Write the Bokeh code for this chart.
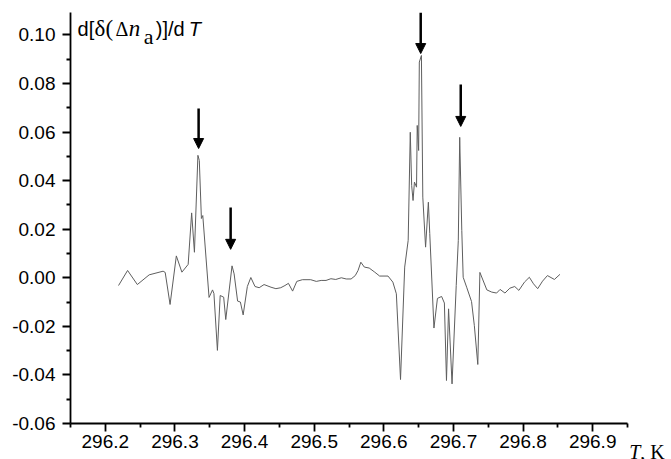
from bokeh.plotting import figure
from bokeh.models import (Range1d, FixedTicker, PrintfTickFormatter, Label,
                          Arrow, NormalHead)
from bokeh.embed import file_html
from bokeh.resources import INLINE

# Temperature (K)
T = [296.219, 296.232, 296.246, 296.263, 296.283, 296.286, 296.293, 296.302, 296.310, 296.319,
     296.324, 296.328, 296.333, 296.335, 296.338, 296.340, 296.349, 296.354, 296.356, 296.361,
     296.365, 296.370, 296.373, 296.382, 296.385, 296.390, 296.394, 296.398, 296.404, 296.409,
     296.415, 296.421, 296.428, 296.438, 296.445, 296.452, 296.458, 296.463, 296.469, 296.475,
     296.483, 296.495, 296.503, 296.510, 296.517, 296.524, 296.531, 296.539, 296.546, 296.553,
     296.559, 296.563, 296.567, 296.572, 296.579, 296.587, 296.594, 296.606, 296.613, 296.618,
     296.624, 296.630, 296.635, 296.638, 296.640, 296.642, 296.644, 296.647, 296.648, 296.650,
     296.651, 296.654, 296.656, 296.660, 296.664, 296.666, 296.672, 296.677, 296.683, 296.687,
     296.690, 296.693, 296.698, 296.704, 296.707, 296.709, 296.712, 296.714, 296.719, 296.726,
     296.730, 296.735, 296.738, 296.748, 296.755, 296.762, 296.767, 296.774, 296.781, 296.788,
     296.794, 296.802, 296.809, 296.815, 296.821, 296.828, 296.835, 296.845, 296.853]

# d[delta(Delta n_a)]/dT
D = [-0.0032, 0.0030, -0.0028, 0.0012, 0.0027, 0.0022, -0.0110, 0.0090, 0.0023, 0.0055,
     0.0267, 0.0105, 0.0504, 0.0483, 0.0244, 0.0256, -0.0081, -0.0050, -0.0065, -0.0299,
     -0.0073, -0.0080, -0.0172, 0.0049, 0.0016, -0.0096, -0.0100, -0.0153, -0.0036, 0.0001,
     -0.0036, -0.0041, -0.0028, -0.0039, -0.0045, -0.0041, -0.0032, -0.0023, -0.0055, -0.0015,
     -0.0008, -0.0008, -0.0015, -0.0011, -0.0011, -0.0004, -0.0007, 0.0000, -0.0005, -0.0005,
     0.0009, 0.0030, 0.0064, 0.0044, 0.0040, 0.0023, 0.0007, 0.0007, -0.0018, -0.0066,
     -0.0419, 0.0044, 0.0154, 0.0599, 0.0380, 0.0318, 0.0394, 0.0373, 0.0627, 0.0524,
     0.0888, 0.0915, 0.0332, 0.0126, 0.0311, 0.0182, -0.0207, -0.0085, -0.0077, -0.0104,
     -0.0423, -0.0128, -0.0437, -0.0032, 0.0154, 0.0578, 0.0195, 0.0002, -0.0039, -0.0098,
     -0.0196, -0.0357, 0.0022, -0.0050, -0.0059, -0.0063, -0.0048, -0.0063, -0.0043, -0.0036,
     -0.0052, -0.0018, 0.0002, -0.0025, -0.0045, -0.0014, 0.0009, -0.0007, 0.0014]

# Arrows marking peaks: x, start y, end y
arrow_x = [296.334, 296.380, 296.653, 296.7105]
arrow_y0 = [0.0697, 0.0289, 0.1092, 0.0796]
arrow_y1 = [0.0532, 0.0117, 0.0923, 0.0623]

x_ticks = [296.2, 296.3, 296.4, 296.5, 296.6, 296.7, 296.8, 296.9]
x_minor = [296.15, 296.25, 296.35, 296.45, 296.55, 296.65, 296.75, 296.85, 296.95]
y_ticks = [-0.06, -0.04, -0.02, 0.0, 0.02, 0.04, 0.06, 0.08, 0.10]
y_minor = [-0.05, -0.03, -0.01, 0.01, 0.03, 0.05, 0.07, 0.09]

p = figure(width=671, height=459, output_backend="svg", toolbar_location=None,
           x_range=Range1d(296.15, 296.95), y_range=Range1d(-0.06, 0.1092),
           min_border_left=70, min_border_right=44, min_border_top=12, min_border_bottom=36)
p.outline_line_color = None
p.xgrid.visible = False
p.ygrid.visible = False
p.background_fill_color = "white"
p.border_fill_color = "white"

p.line(T, D, line_color="#5e5e5e", line_width=1)

for xa, y0, y1 in zip(arrow_x, arrow_y0, arrow_y1):
    p.add_layout(Arrow(x_start=xa, y_start=y0, x_end=xa, y_end=y1,
                       line_color="black", line_width=2.5,
                       end=NormalHead(size=10, fill_color="black", line_color="black", line_width=1)))

for ax, ticks, minor, fmt in ((p.xaxis[0], x_ticks, x_minor, "%.1f"),
                              (p.yaxis[0], y_ticks, y_minor, "%.2f")):
    ax.ticker = FixedTicker(ticks=ticks, minor_ticks=minor)
    ax.formatter = PrintfTickFormatter(format=fmt)
    ax.axis_line_width = 1.8
    ax.axis_line_color = "black"
    ax.major_tick_line_width = 1.8
    ax.minor_tick_line_width = 1.8
    ax.major_tick_in = 0
    ax.minor_tick_in = 0
    ax.major_tick_out = 8
    ax.minor_tick_out = 4
    ax.major_label_text_font = "Liberation Sans"
    ax.major_label_text_font_size = "19px"
    ax.major_label_text_color = "black"

p.xaxis[0].major_label_standoff = 3
p.yaxis[0].major_label_standoff = 7

# y-axis title pieces: d[δ(Δn_a)]/dT
ybase = 0.1026
pieces = [
    (296.1601, ybase, "d[", "Liberation Sans", "normal", "20px"),
    (296.1846, ybase, "δ(", "Liberation Serif", "normal", "23px"),
    (296.2148, ybase, "Δ", "Liberation Serif", "normal", "20px"),
    (296.2336, ybase, "n", "Liberation Serif", "italic", "23px"),
    (296.2552, 0.0993, "a", "Liberation Serif", "normal", "22px"),
    (296.2725, ybase, ")]/d", "Liberation Sans", "normal", "20px"),
    (296.3200, ybase, "T", "Liberation Sans", "italic", "20px"),
]
for xx, yy, txt, font, style, size in pieces:
    p.add_layout(Label(x=xx, y=yy, text=txt, text_font=font, text_font_style=style,
                       text_font_size=size, text_color="black", text_baseline="alphabetic"))

# x-axis title: T, K  (placed in the right side panel so it is not clipped by the frame)
p.add_layout(Label(x=296.9526, y=-0.0718, text="T", text_font="Liberation Serif",
                   text_font_style="italic", text_font_size="20px", text_color="black",
                   text_baseline="alphabetic"), "right")
p.add_layout(Label(x=296.9526, y=-0.0718, x_offset=11, text=", K", text_font="Liberation Serif",
                   text_font_size="20px", text_color="black", text_baseline="alphabetic"), "right")

open("out.html", "w").write(file_html(p, INLINE))
